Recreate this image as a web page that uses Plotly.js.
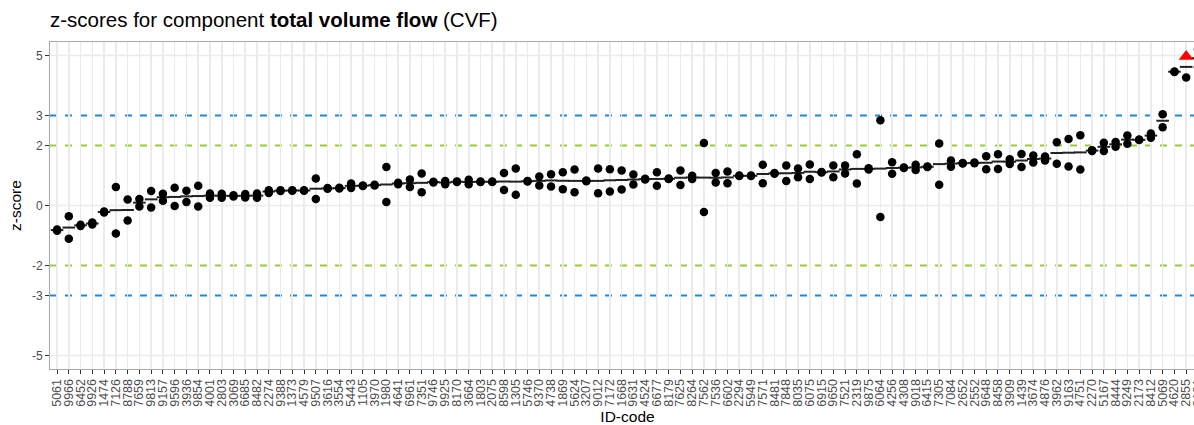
<!DOCTYPE html>
<html>
<head>
<meta charset="utf-8">
<script src="https://cdn.plot.ly/plotly-3.0.1.min.js"></script>
<style>
html, body { margin: 0; padding: 0; overflow: hidden; background: #fff; }
#chart { width: 1210px; height: 425px; }
</style>
</head>
<body>
<div id="chart"></div>
<script>
// ID codes (x categories, in plotted order)
const idCodes = [
  "5061","9966","6452","9926","1474","7126","8788","7659","9813","9157",
  "9596","3936","9854","4001","2803","3069","6685","8482","2274","9388",
  "1373","4579","9507","3616","3554","5443","1105","3970","1980","4641",
  "6961","7351","9746","9925","8170","3664","1803","2075","8598","1305",
  "5746","9370","4738","1869","5624","3207","9012","7172","1668","9631",
  "4524","6677","8179","7625","8264","7562","7536","6602","2294","5949",
  "7571","8481","7848","8035","6075","6915","9650","7521","2319","9875",
  "6064","4256","4308","9018","6415","7305","7084","2652","2552","9648",
  "8458","3909","1439","3674","4876","3962","9163","4751","2270","5167",
  "8444","9249","2173","8412","5069","4620","2855","2121"
];
// first replicate z-scores
const zRep1 = [
  -0.80,-0.36,-0.64,-0.57,-0.20, 0.62, 0.20, 0.22, 0.48, 0.39,
   0.59, 0.49, 0.66, 0.40, 0.39, 0.34, 0.38, 0.40, 0.51, 0.51,
   0.51, 0.51, 0.90, 0.58, 0.59, 0.73, 0.67, 0.69, 1.28, 0.76,
   0.87, 1.07, 0.79, 0.82, 0.80, 0.86, 0.80, 0.80, 1.08, 1.23,
   0.82, 0.97, 1.04, 1.11, 1.20, 0.83, 1.23, 1.21, 1.17, 1.03,
   0.89, 1.11, 0.90, 1.17, 0.99, 2.08, 1.08, 1.13, 1.00, 1.00,
   1.36, 1.08, 1.33, 1.23, 1.37, 1.12, 1.33, 1.33, 1.71, 1.24,
   2.84, 1.44, 1.27, 1.36, 1.30, 2.07, 1.50, 1.42, 1.43, 1.64,
   1.71, 1.54, 1.72, 1.67, 1.63, 2.11, 2.22, 2.34, 1.84, 2.09,
   2.12, 2.33, 2.20, 2.40, 3.04, 4.47, 4.97, 5.21
];
// second replicate z-scores
const zRep2 = [
  -0.84,-1.11,-0.68,-0.63,-0.23,-0.93,-0.50,-0.03,-0.07, 0.16,
  -0.02, 0.12,-0.03, 0.26, 0.26, 0.30, 0.27, 0.26, 0.42, 0.48,
   0.49, 0.49, 0.22, 0.56, 0.57, 0.58, 0.65, 0.67, 0.12, 0.71,
   0.62, 0.44, 0.77, 0.71, 0.78, 0.71, 0.78, 0.78, 0.52, 0.36,
   0.80, 0.67, 0.63, 0.54, 0.44, 0.81, 0.41, 0.47, 0.53, 0.70,
   0.87, 0.66, 0.88, 0.68, 0.88,-0.22, 0.77, 0.74, 0.98, 0.98,
   0.74, 1.06, 0.82, 0.94, 0.88, 1.10, 0.94, 1.07, 0.73, 1.20,
  -0.38, 1.06, 1.25, 1.18, 1.28, 0.69, 1.29, 1.40, 1.41, 1.21,
   1.22, 1.38, 1.28, 1.43, 1.50, 1.39, 1.30, 1.20, 1.82, 1.82,
   1.96, 2.06, 2.18, 2.26, 2.61, 4.45, 4.27, 4.61
];
// replicate-1 values flagged (drawn as red triangles)
const flagRep1 = ["2855"];
// reference limits
const warnLimits = [2, -2];
const actionLimits = [3, -3];
const yTickVals = [-5, -3, -2, 0, 2, 3, 5];
const yTickText = ["-5", "-3", "-2", "0", "2", "3", "5"];
const yGridVals = [-5, 0, 5];

const dotsX = [], dotsY = [], triX = [], triY = [], meanY = [];
idCodes.forEach((id, i) => {
  meanY.push((zRep1[i] + zRep2[i]) / 2);
  if (flagRep1.includes(id)) { triX.push(id); triY.push(zRep1[i]); }
  else { dotsX.push(id); dotsY.push(zRep1[i]); }
  dotsX.push(id); dotsY.push(zRep2[i]);
});

const traces = [
  { type: 'scatter', mode: 'markers', x: idCodes, y: meanY, hoverinfo: 'skip',
    marker: { symbol: 'line-ew', size: 9, color: '#222', line: { color: '#222', width: 2 } },
    cliponaxis: false, showlegend: false },
  { type: 'scatter', mode: 'markers', x: dotsX, y: dotsY,
    marker: { symbol: 'circle', size: 8.5, color: '#000' },
    cliponaxis: false, showlegend: false },
  { type: 'scatter', mode: 'markers', x: triX, y: triY,
    marker: { symbol: 'triangle-up', size: 13, color: '#ff0000' },
    cliponaxis: false, showlegend: false }
];

const shapes = [];
yGridVals.forEach(v => shapes.push({ type: 'line', xref: 'paper', x0: 0, x1: 1, yref: 'y', y0: v, y1: v,
  layer: 'between', line: { color: '#ebebeb', width: 1.6 } }));
warnLimits.forEach(v => shapes.push({ type: 'line', xref: 'paper', x0: 0, x1: 1, yref: 'y', y0: v, y1: v,
  layer: 'between', line: { color: '#9acd32', width: 2, dash: '7px,8px' } }));
actionLimits.forEach(v => shapes.push({ type: 'line', xref: 'paper', x0: 0, x1: 1, yref: 'y', y0: v, y1: v,
  layer: 'between', line: { color: '#1c8ad8', width: 2, dash: '7px,8px' } }));

const layout = {
  width: 1210, height: 425,
  margin: { l: 50, r: 5, t: 42, b: 56 },
  paper_bgcolor: '#fff', plot_bgcolor: '#fff',
  font: { family: 'Liberation Sans, Arial, sans-serif', color: '#000' },
  title: { text: 'z-scores for component <b>total volume flow</b> (CVF)',
    font: { size: 20.5, color: '#000' }, xref: 'paper', x: 0, xanchor: 'left',
    yref: 'container', y: 1 - 20 / 425, yanchor: 'middle' },
  xaxis: {
    type: 'category', categoryorder: 'array', categoryarray: idCodes,
    range: [-0.6, idCodes.length - 0.4],
    tickmode: 'array', tickvals: idCodes, ticktext: idCodes,
    showgrid: true, gridcolor: '#ebebeb', gridwidth: 1.6,
    showline: true, mirror: true, linecolor: '#a8a8a8', linewidth: 1,
    ticks: 'outside', ticklen: 4, tickcolor: '#333', tickwidth: 1,
    tickangle: -90, tickfont: { size: 12.5, color: '#4d4d4d' },
    title: { text: 'ID-code', font: { size: 15.5, color: '#000' }, standoff: 6 },
    zeroline: false, automargin: false
  },
  yaxis: {
    range: [-5.45, 5.45],
    tickmode: 'array', tickvals: yTickVals, ticktext: yTickText,
    showgrid: false,
    showline: true, mirror: true, linecolor: '#a8a8a8', linewidth: 1,
    ticks: 'outside', ticklen: 4, tickcolor: '#333', tickwidth: 1,
    tickfont: { size: 12, color: '#4d4d4d' },
    title: { text: 'z-score', font: { size: 15.5, color: '#000' }, standoff: 6 },
    zeroline: false, automargin: false
  },
  shapes: shapes
};

Plotly.newPlot('chart', traces, layout, { staticPlot: true, displayModeBar: false });
</script>
</body>
</html>
